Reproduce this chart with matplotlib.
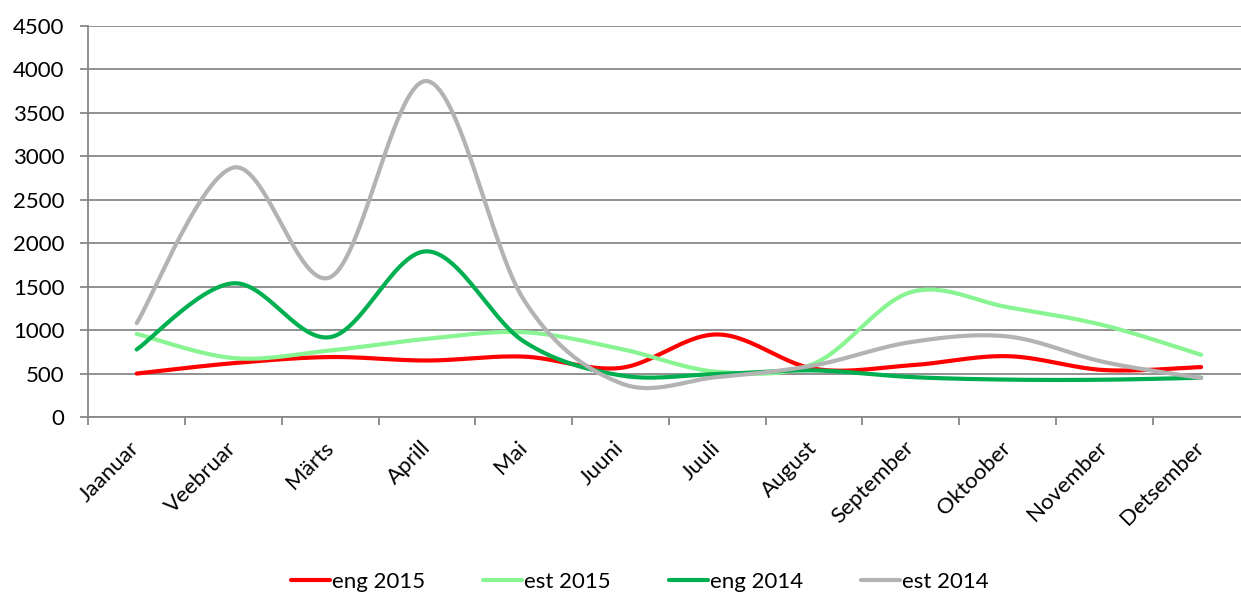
import numpy as np
import matplotlib
matplotlib.use("Agg")
import matplotlib.pyplot as plt

months = ["Jaanuar", "Veebruar", "Märts", "Aprill", "Mai", "Juuni", "Juuli",
          "August", "September", "Oktoober", "November", "Detsember"]
eng_2015 = [500, 620, 690, 650, 695, 565, 950, 555, 595, 700, 540, 575]
est_2015 = [957, 678, 766, 900, 976, 785, 520, 615, 1437, 1264, 1054, 716]
eng_2014 = [777, 1539, 919, 1907, 870, 479, 495, 536, 460, 430, 429, 452]
est_2014 = [1080, 2871, 1608, 3867, 1350, 390, 460, 594, 862, 927, 632, 448]
series_names = ["eng 2015", "est 2015", "eng 2014", "est 2014"]
colors = ["#FF0000", "#88F592", "#00B050", "#B3B3B3"]
yticks = [0, 500, 1000, 1500, 2000, 2500, 3000, 3500, 4000, 4500]

plt.rcParams['font.family'] = ['Lato', 'DejaVu Sans']


def smooth(xs, ys, n=30):
    """Excel-like smoothed line (Catmull-Rom via cubic Bezier)."""
    xs = np.asarray(xs, float)
    ys = np.asarray(ys, float)
    px = np.concatenate([[xs[0]], xs, [xs[-1]]])
    py = np.concatenate([[ys[0]], ys, [ys[-1]]])
    outx, outy = [], []
    t = np.linspace(0, 1, n)
    for i in range(1, len(px) - 2):
        p0 = np.array([px[i], py[i]])
        p3 = np.array([px[i + 1], py[i + 1]])
        c1 = p0 + (np.array([px[i + 1], py[i + 1]]) - np.array([px[i - 1], py[i - 1]])) / 6
        c2 = p3 - (np.array([px[i + 2], py[i + 2]]) - np.array([px[i], py[i]])) / 6
        b = ((1 - t) ** 3)[:, None] * p0 + (3 * (1 - t) ** 2 * t)[:, None] * c1 + \
            (3 * (1 - t) * t ** 2)[:, None] * c2 + (t ** 3)[:, None] * p3
        outx.extend(b[:, 0])
        outy.extend(b[:, 1])
    return np.array(outx), np.array(outy)


W, H = 1241, 596
fig = plt.figure(figsize=(W / 100, H / 100), dpi=100)
left, right, top, bottom = 88.3, 1249.5, 26.0, 417.0
ax = fig.add_axes([left / W, 1 - bottom / H, (right - left) / W, (bottom - top) / H])

x = np.arange(len(months))
for vals, name, c in zip([eng_2015, est_2015, eng_2014, est_2014], series_names, colors):
    sx, sy = smooth(x, vals)
    ax.plot(sx, sy, color=c, lw=3.0, label=name, solid_capstyle='round', zorder=3)

ax.set_xlim(-0.5, len(months) - 0.5)
ax.set_ylim(0, 4500)
ax.set_yticks(yticks)
ax.set_yticklabels([str(v) for v in yticks], fontsize=16)
ax.yaxis.grid(True, color="#888888", lw=1.3)
ax.set_axisbelow(True)

ax.set_xticks(np.arange(len(months) + 1) - 0.5)
ax.set_xticklabels([])
ax.set_xticks(x, minor=True)
ax.set_xticklabels(months, minor=True, rotation=45, ha='right', va='center',
                   rotation_mode='anchor', fontsize=16)
ax.tick_params(axis='x', which='minor', length=0, pad=20)
ax.tick_params(axis='x', which='major', length=6, color="#888888", width=1.3, direction='out')
ax.tick_params(axis='y', length=6, color="#888888", width=1.3, pad=11)

for s in ['top', 'right']:
    ax.spines[s].set_visible(False)
for s in ['left', 'bottom']:
    ax.spines[s].set_color("#888888")
    ax.spines[s].set_linewidth(1.3)

leg = fig.legend(loc='center', bbox_to_anchor=(640 / W, 1 - 582 / H), ncol=4,
                 frameon=False, fontsize=16, handlelength=1.75, handletextpad=0.1,
                 columnspacing=2.6)
for l in leg.get_lines():
    l.set_linewidth(3)

fig.savefig("out.png", dpi=100)
